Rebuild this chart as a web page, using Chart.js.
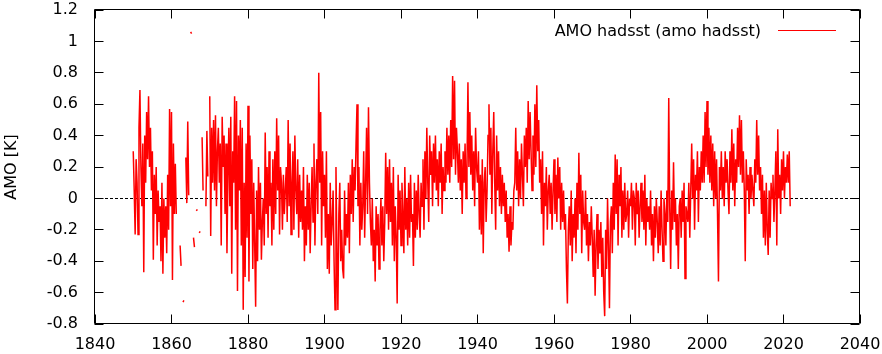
<!DOCTYPE html>
<html>
<head>
<meta charset="utf-8">
<script src="https://cdn.jsdelivr.net/npm/chart.js@4.4.1/dist/chart.umd.min.js"></script>
<style>
  html, body { margin: 0; padding: 0; background: #fff; }
  #chartAmo { display: block; }
</style>
</head>
<body>
<canvas id="chartAmo" width="882" height="354"></canvas>
<script>
// AMO (hadsst), valors trimestrals llegits del gràfic, 4 per any, a partir de 1850
const primerAny = 1850;
const passosPerAny = 4;

const amo1850a1899 = [
  0.30, 0.05, -0.23, 0.25, 0.10, -0.23, 0.45, 0.69,     // 1850-51
  0.20, -0.05, 0.35, -0.47, 0.40, 0.10, 0.55, 0.25,     // 1852-53
  0.65, 0.20, 0.45, 0.05, 0.30, -0.39, 0.15, -0.10,     // 1854-55
  0.20, -0.30, 0.05, -0.15, -0.05, -0.40, 0.10, -0.48,  // 1856-57
  0.00, -0.25, -0.05, -0.35, 0.15, -0.20, 0.57, -0.05,  // 1858-59
  0.55, -0.52, 0.35, -0.10, 0.22, -0.10, null, null,    // 1860-61
  null, -0.30, -0.43, null, -0.66, -0.65, null, 0.26,   // 1862-63
  -0.03, 0.49, 0.02, null, 1.06, 1.05, null, -0.25,     // 1864-65
  -0.31, null, -0.08, -0.07, null, -0.22, -0.21, null,  // 1866-67
  0.39, 0.05, null, null, -0.05, 0.43, 0.14, null,      // 1868-69
  0.65, -0.24, 0.45, 0.10, 0.50, 0.05, 0.53, -0.05,     // 1870-71
  0.30, 0.45, 0.10, 0.35, -0.30, 0.52, 0.20, 0.40,      // 1872-73
  -0.10, 0.35, -0.35, 0.15, 0.45, -0.05, 0.52, -0.48,   // 1874-75
  0.30, 0.10, 0.65, -0.20, 0.62, -0.59, 0.40, 0.05,     // 1876-77
  0.50, -0.30, 0.45, -0.71, 0.10, -0.50, 0.35, -0.25,   // 1878-79
  0.59, -0.53, 0.40, -0.10, 0.25, -0.45, 0.10, -0.30,   // 1880-81
  -0.69, 0.05, -0.40, 0.20, -0.20, 0.10, -0.39, -0.15,  // 1882-83
  0.00, -0.30, 0.42, -0.10, 0.20, -0.25, 0.30, -0.05,   // 1884-85
  0.10, -0.30, 0.25, -0.20, 0.30, -0.10, 0.51, 0.05,    // 1886-87
  0.40, -0.23, 0.20, 0.10, -0.20, 0.15, -0.10, 0.05,    // 1888-89
  0.20, -0.15, 0.50, -0.05, 0.35, -0.23, 0.10, 0.30,    // 1890-91
  -0.20, 0.40, 0.05, -0.10, 0.25, -0.25, 0.15, -0.15,   // 1892-93
  0.05, -0.20, 0.20, -0.40, -0.05, -0.30, 0.15, -0.20,  // 1894-95
  0.10, -0.35, -0.05, 0.20, -0.15, 0.35, -0.30, 0.10,   // 1896-97
  0.25, -0.10, 0.80, 0.10, 0.55, -0.30, 0.30, -0.05     // 1898-99
];

const amo1900a1949 = [
  0.15, -0.25, 0.30, -0.45, -0.10, -0.48, 0.10, -0.30,  // 1900-01
  -0.15, 0.05, -0.40, -0.71, 0.20, -0.35, -0.71, -0.10, // 1902-03
  0.10, -0.40, -0.20, -0.45, -0.51, 0.05, -0.30, -0.10, // 1904-05
  -0.25, 0.10, -0.35, 0.15, -0.10, 0.25, -0.15, 0.20,   // 1906-07
  0.05, 0.35, 0.60, -0.05, 0.20, -0.30, 0.10, -0.20,    // 1908-09
  -0.05, 0.30, -0.25, 0.10, 0.45, -0.10, 0.58, 0.10,    // 1910-11
  -0.15, -0.30, 0.00, -0.40, -0.20, -0.53, -0.05, -0.30,// 1912-13
  -0.10, -0.45, -0.20, 0.00, -0.30, -0.05, -0.40, -0.15,// 1914-15
  0.29, -0.10, 0.20, -0.20, 0.25, -0.15, 0.10, -0.30,   // 1916-17
  0.20, -0.40, -0.05, -0.25, -0.67, 0.15, -0.20, 0.05,  // 1918-19
  -0.30, 0.10, -0.10, -0.35, 0.20, -0.20, 0.00, -0.30,  // 1920-21
  0.10, -0.25, 0.15, -0.15, -0.10, -0.43, 0.10, -0.25,  // 1922-23
  0.05, -0.20, 0.15, -0.10, -0.25, 0.10, -0.05, 0.25,   // 1924-25
  -0.20, 0.30, 0.00, 0.45, 0.10, -0.15, 0.40, 0.15,     // 1926-27
  0.30, -0.05, 0.35, 0.10, 0.40, 0.05, 0.25, -0.05,     // 1928-29
  0.30, 0.10, 0.35, -0.10, 0.20, 0.05, 0.30, 0.10,      // 1930-31
  0.45, 0.15, 0.40, 0.10, 0.50, 0.20, 0.78, 0.25,       // 1932-33
  0.75, 0.15, 0.45, 0.30, 0.10, 0.35, 0.05, 0.25,       // 1934-35
  -0.10, 0.30, 0.10, 0.35, 0.00, 0.20, 0.74, 0.20,      // 1936-37
  0.55, 0.15, 0.40, 0.05, 0.30, -0.05, 0.45, 0.20,      // 1938-39
  0.10, 0.30, -0.20, 0.15, -0.23, 0.25, -0.35, 0.10,    // 1940-41
  0.20, -0.15, 0.05, 0.40, 0.60, 0.15, 0.45, -0.10,     // 1942-43
  0.30, 0.55, 0.10, -0.20, 0.40, 0.05, 0.30, -0.05,     // 1944-45
  0.20, -0.10, 0.15, -0.05, 0.10, -0.15, 0.05, -0.25,   // 1946-47
  -0.10, -0.34, -0.05, -0.30, -0.15, -0.20, 0.05, 0.10  // 1948-49
];

const amo1950a1999 = [
  0.45, 0.05, 0.30, -0.05, 0.25, 0.00, 0.35, 0.15,      // 1950-51
  -0.05, 0.40, 0.20, 0.45, 0.10, 0.62, 0.25, 0.55,      // 1952-53
  0.30, 0.05, 0.40, 0.15, 0.60, 0.20, 0.72, 0.30,       // 1954-55
  0.50, 0.10, 0.25, -0.10, 0.30, -0.30, 0.10, -0.05,    // 1956-57
  0.20, -0.20, 0.05, 0.15, -0.10, 0.10, -0.20, 0.05,    // 1958-59
  0.25, -0.10, 0.15, -0.15, 0.26, 0.00, 0.20, -0.20,    // 1960-61
  0.10, -0.15, 0.05, -0.20, -0.10, -0.45, -0.67, -0.20, // 1962-63
  -0.05, -0.30, 0.05, -0.40, -0.10, -0.25, 0.00, -0.35, // 1964-65
  0.10, -0.20, 0.29, -0.10, 0.15, -0.35, 0.05, -0.15,   // 1966-67
  -0.20, 0.05, -0.30, -0.10, -0.40, -0.15, -0.30, -0.05,// 1968-69
  -0.25, -0.50, -0.20, -0.62, -0.30, -0.10, -0.45, -0.20,// 1970-71
  -0.35, -0.15, -0.50, -0.25, -0.60, -0.75, -0.20, -0.45,// 1972-73
  0.00, -0.30, -0.70, -0.15, -0.05, -0.35, 0.10, -0.20, // 1974-75
  0.28, -0.10, 0.25, -0.30, 0.15, -0.05, 0.20, -0.25,   // 1976-77
  0.05, -0.20, 0.10, -0.15, -0.10, 0.05, -0.25, 0.00,   // 1978-79
  -0.05, 0.10, -0.20, 0.05, 0.00, -0.30, 0.10, -0.10,   // 1980-81
  0.05, -0.25, -0.05, 0.10, -0.15, 0.05, -0.20, 0.15,   // 1982-83
  -0.30, 0.00, -0.15, -0.05, -0.20, 0.05, -0.30, -0.10, // 1984-85
  -0.40, -0.05, -0.25, 0.00, -0.15, -0.35, -0.05, -0.30,// 1986-87
  0.05, -0.20, -0.40, 0.00, -0.10, -0.30, 0.05, -0.15,  // 1988-89
  0.64, -0.05, -0.45, 0.05, -0.20, 0.23, -0.15, 0.00,   // 1990-91
  -0.30, -0.10, -0.45, -0.05, 0.00, -0.25, 0.05, -0.15, // 1992-93
  0.10, -0.51, -0.05, -0.10, -0.15, 0.10, -0.25, 0.05,  // 1994-95
  0.35, 0.00, 0.25, -0.20, 0.15, 0.05, 0.30, -0.15,     // 1996-97
  0.20, 0.05, 0.30, 0.10, 0.40, 0.10, 0.55, 0.20        // 1998-99
];

const amo2000a2021 = [
  0.62, 0.15, 0.45, 0.10, 0.40, 0.05, 0.35, -0.05,      // 2000-01
  0.30, 0.00, 0.25, -0.10, -0.53, 0.20, 0.05, 0.30,     // 2002-03
  0.00, 0.20, -0.05, 0.30, 0.10, 0.25, 0.05, -0.10,     // 2004-05
  0.30, 0.10, 0.44, 0.05, 0.35, -0.05, 0.25, 0.10,      // 2006-07
  0.45, 0.20, 0.53, 0.15, 0.50, 0.10, 0.30, 0.05,       // 2008-09
  -0.40, 0.25, 0.05, 0.15, -0.10, 0.20, 0.00, 0.15,     // 2010-11
  0.05, -0.05, 0.25, 0.10, 0.50, 0.15, 0.40, 0.05,      // 2012-13
  0.20, -0.10, 0.15, -0.25, 0.05, -0.30, 0.10, -0.20,   // 2014-15
  -0.36, 0.05, -0.25, 0.10, 0.00, 0.15, -0.15, 0.05,    // 2016-17
  0.30, -0.30, 0.44, 0.00, 0.15, -0.10, 0.25, 0.05,     // 2018-19
  0.30, 0.00, 0.20, 0.10, 0.28, 0.10, 0.30, -0.05       // 2020-21
];

const etiquetaSerie = 'AMO hadsst (amo hadsst)';
const titolEixY = 'AMO [K]';
const eixX = { min: 1840, max: 2040, pas: 20 };
const eixY = { min: -0.8, max: 1.2, pas: 0.2 };

// Unir els trams i posar-hi l'any
const valorsAmo = [...amo1850a1899, ...amo1900a1949, ...amo1950a1999, ...amo2000a2021];
const punts = valorsAmo.map((v, i) => ({ x: primerAny + i / passosPerAny, y: v }));

// Marc, marques cap a dins, línia del zero i llegenda a l'estil gnuplot
const marcGnuplot = {
  id: 'marcGnuplot',
  beforeDatasetsDraw(chart) {
    const { ctx, chartArea: a, scales } = chart;
    const y0 = Math.floor(scales.y.getPixelForValue(0)) + 0.5;
    ctx.save();
    ctx.strokeStyle = '#000';
    ctx.lineWidth = 1;
    ctx.setLineDash([3, 2]);
    ctx.beginPath();
    ctx.moveTo(a.left, y0);
    ctx.lineTo(a.right, y0);
    ctx.stroke();
    ctx.restore();
  },
  afterDatasetsDraw(chart) {
    const { ctx, chartArea: a, scales } = chart;
    const l = a.left - 0.5, r = a.right - 0.5, t = a.top - 0.5, b = a.bottom - 0.5;
    const llarg = 9;
    ctx.save();
    ctx.strokeStyle = '#000';
    ctx.lineWidth = 1;
    ctx.beginPath();
    ctx.rect(l, t, r - l, b - t);
    scales.x.ticks.forEach(tk => {
      const px = Math.floor(scales.x.getPixelForValue(tk.value)) + 0.5;
      ctx.moveTo(px, b); ctx.lineTo(px, b - llarg);
      ctx.moveTo(px, t); ctx.lineTo(px, t + llarg);
    });
    scales.y.ticks.forEach(tk => {
      const py = Math.floor(scales.y.getPixelForValue(tk.value)) + 0.5;
      ctx.moveTo(l, py); ctx.lineTo(l + llarg, py);
      ctx.moveTo(r, py); ctx.lineTo(r - llarg, py);
    });
    ctx.stroke();

    // llegenda
    ctx.font = '16px "DejaVu Sans"';
    ctx.fillStyle = '#000';
    ctx.textAlign = 'right';
    ctx.textBaseline = 'alphabetic';
    ctx.fillText(etiquetaSerie, 761, 36);
    ctx.strokeStyle = '#ff0000';
    ctx.beginPath();
    ctx.moveTo(778, 30.5);
    ctx.lineTo(836, 30.5);
    ctx.stroke();
    ctx.restore();
  }
};

// Treure el farciment automàtic que Chart.js posa per les etiquetes
function sensePadding(s) {
  s.paddingTop = 0;
  s.paddingBottom = 0;
  s.paddingLeft = 0;
  s.paddingRight = 0;
}

Chart.defaults.font.family = '"DejaVu Sans"';
Chart.defaults.font.size = 16;
Chart.defaults.color = '#000';

const ctx = document.getElementById('chartAmo').getContext('2d');
new Chart(ctx, {
  type: 'line',
  data: {
    datasets: [{
      label: etiquetaSerie,
      data: punts,
      borderColor: '#ff0000',
      borderWidth: 1.5,
      pointRadius: 0,
      tension: 0,
      spanGaps: false
    }]
  },
  options: {
    responsive: false,
    animation: false,
    devicePixelRatio: 1,
    layout: { autoPadding: false, padding: { top: 10, right: 22, left: 0, bottom: 0 } },
    plugins: { legend: { display: false }, tooltip: { enabled: false } },
    scales: {
      x: {
        type: 'linear',
        min: eixX.min,
        max: eixX.max,
        grid: { display: false, drawTicks: false },
        border: { display: false },
        ticks: { stepSize: eixX.pas, padding: 11, maxRotation: 0, callback: v => String(v) },
        afterFit: s => { s.height = 30; sensePadding(s); }
      },
      y: {
        min: eixY.min,
        max: eixY.max,
        grid: { display: false, drawTicks: false },
        border: { display: false },
        ticks: { stepSize: eixY.pas, padding: 17, callback: v => String(Number(v.toFixed(1))) },
        title: { display: true, text: titolEixY, padding: { top: 2, bottom: 0 } },
        afterFit: s => { s.width = 95; sensePadding(s); }
      }
    }
  },
  plugins: [marcGnuplot]
});
</script>
</body>
</html>
